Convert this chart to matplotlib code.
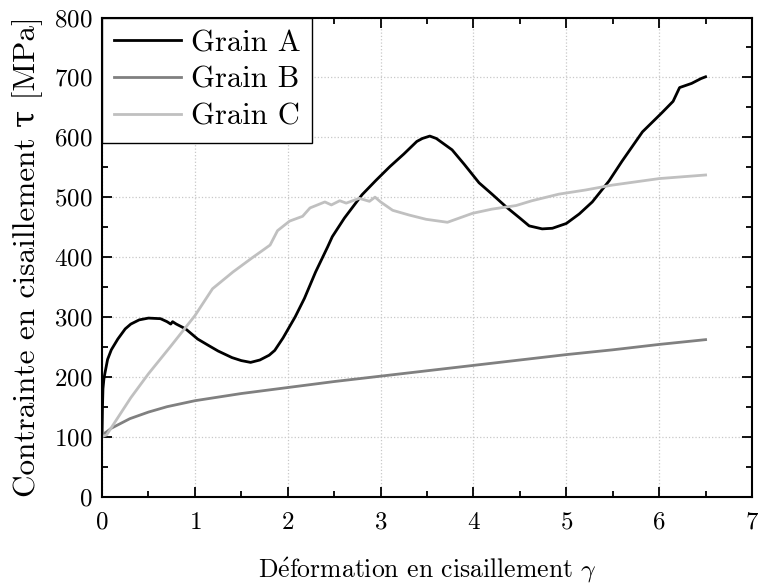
import matplotlib
matplotlib.use('Agg')
import numpy as np
from matplotlib import pyplot as plt
from matplotlib.ticker import MultipleLocator

# Grain A (black)
xa = [0, 0.005, 0.01, 0.02, 0.03, 0.06, 0.1, 0.17, 0.25, 0.31, 0.4, 0.5, 0.63,
      0.7, 0.74, 0.76, 0.8, 0.9, 1.03, 1.15, 1.25, 1.4, 1.5, 1.6, 1.7, 1.8,
      1.86, 1.95, 2.08, 2.18, 2.3, 2.43, 2.48, 2.61, 2.8, 2.95, 3.1, 3.25,
      3.39, 3.45, 3.53, 3.6, 3.77, 3.9, 4.06, 4.2, 4.35, 4.5, 4.6, 4.74, 4.85,
      5.0, 5.14, 5.28, 5.46, 5.6, 5.82, 6.03, 6.15, 6.22, 6.35, 6.45, 6.5]
ya = [100, 150, 180, 196, 205, 229, 245, 263, 280, 288, 295, 298, 297,
      292, 288, 292, 288, 280, 263, 252, 243, 232, 227, 224, 228, 236,
      244, 265, 300, 331, 375, 417, 434, 465, 504, 528, 551, 572,
      593, 598, 602, 598, 579, 555, 524, 505, 484, 465, 452, 447, 448,
      456, 472, 492, 527, 560, 609, 641, 660, 683, 690, 698, 701]

# Grain B (mid grey)
xb = [0, 0.01, 0.02, 0.05, 0.1, 0.2, 0.3, 0.5, 0.7, 1, 1.5, 2, 2.5, 3, 3.5,
      4, 4.5, 5, 5.5, 6, 6.5]
yb = [100, 103, 105, 108, 114, 122, 130, 141, 150, 160, 172, 182, 192, 201,
      210, 219, 228, 237, 245, 254, 262]

# Grain C (light grey)
xc = [0, 0.05, 0.31, 0.5, 0.74, 1.0, 1.19, 1.41, 1.62, 1.72, 1.81, 1.89,
      2.02, 2.16, 2.24, 2.40, 2.47, 2.56, 2.63, 2.77, 2.88, 2.94, 3.0, 3.13,
      3.31, 3.49, 3.72, 3.81, 3.99, 4.20, 4.46, 4.63, 4.92, 5.21, 5.49, 6.0,
      6.5]
yc = [100, 103, 165, 205, 251, 302, 347, 375, 399, 410, 420, 444,
      460, 468, 482, 492, 487, 494, 490, 498, 493, 500, 492, 478,
      470, 463, 458, 463, 473, 480, 486, 494, 505, 512, 520, 531,
      537]

plt.rcParams['font.family'] = ['cmr10', 'DejaVu Serif']
plt.rcParams['mathtext.fontset'] = 'cm'
plt.rcParams['axes.formatter.use_mathtext'] = True

fig = plt.figure(figsize=(7.58, 5.88), dpi=100)
ax = fig.add_axes([0.1346, 0.1556, 0.8575, 0.8146])

ax.plot(xa, ya, color='black', lw=2.0, label='Grain A')
ax.plot(xb, yb, color='#808080', lw=2.0, label='Grain B')
ax.plot(xc, yc, color='#c0c0c0', lw=2.0, label='Grain C')

ax.set_xlim(0, 7)
ax.set_ylim(0, 800)
ax.xaxis.set_major_locator(MultipleLocator(1))
ax.xaxis.set_minor_locator(MultipleLocator(0.5))
ax.yaxis.set_major_locator(MultipleLocator(100))
ax.yaxis.set_minor_locator(MultipleLocator(50))
ax.tick_params(which='both', direction='in', top=True, right=True,
               labelsize=18, width=1.3)
ax.tick_params(which='major', length=7)
ax.tick_params(which='minor', length=4)
ax.tick_params(axis='x', which='major', pad=11)
ax.tick_params(axis='y', which='major', pad=7)
for s in ax.spines.values():
    s.set_linewidth(1.5)
ax.grid(True, which='major', ls=':', color='#c8c8c8', lw=0.9)

ax.set_xlabel(r'D$\acute{\mathrm{e}}$formation en cisaillement $\gamma$',
              fontsize=18.5, labelpad=16)
ax.set_ylabel('Contrainte en cisaillement τ [MPa]', fontsize=22.5, labelpad=8)

leg = ax.legend(loc='upper left', borderaxespad=0, fancybox=False,
                framealpha=1, edgecolor='black', fontsize=22,
                handlelength=2.2, handletextpad=0.3, labelspacing=0.3,
                borderpad=0.4)
leg.get_frame().set_linewidth(1.0)

fig.savefig('out.png', dpi=100)
